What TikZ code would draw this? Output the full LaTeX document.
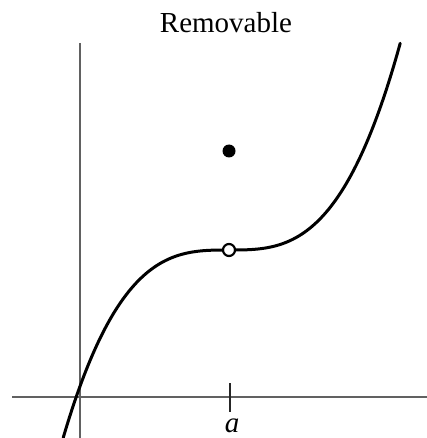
\documentclass[tikz,border=0pt]{standalone}
\usepackage{fontspec}
\setmainfont{Liberation Serif}
\begin{document}
\begin{tikzpicture}[x=1pt,y=-1pt,
  axis/.style={line width=1.6pt,draw=black!62},
  curve/.style={line width=3pt,black,line cap=round},
  tickmark/.style={line width=1.6pt,black!85},
  filleddot/.style={circle,fill=black,minimum size=13pt,inner sep=0pt},
  opendot/.style={circle,draw=black,fill=white,line width=2.2pt,minimum size=12pt,inner sep=0pt},
  lbl/.style={font=\fontsize{29}{32}\selectfont,inner sep=0pt}]
\useasboundingbox (0,0) rectangle (427,438);
\coordinate (xl) at (12,397);
\coordinate (xr) at (427,397);
\coordinate (yt) at (80,43);
\coordinate (yb) at (80,438);
\draw[axis] (xl) -- (xr);
\draw[axis] (yt) -- (yb);
\coordinate (tt) at (230,383);
\coordinate (tb) at (230,412);
\draw[tickmark] (tt) -- (tb);
\node[lbl,anchor=base] (title) at (226,33) {Removable};
\node[lbl,anchor=base] (alabel) at (232,432) {\itshape a};
\draw[curve] plot[domain=63.2:400.2,samples=120,smooth] (\x,{250-41.2*((\x-229)/100)^3});
\node[opendot] (hole) at (229,250) {};
\node[filleddot] (point) at (229,151) {};
\end{tikzpicture}
\end{document}
